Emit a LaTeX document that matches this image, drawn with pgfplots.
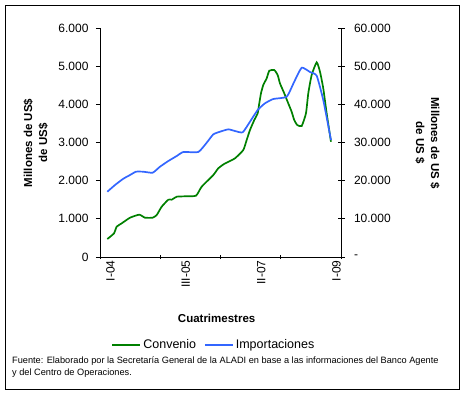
\documentclass[border=0pt]{standalone}
\usepackage{pgfplots}
\pgfplotsset{compat=1.18}
\usepackage{fontspec}
\setmainfont{Liberation Sans}
\definecolor{conv}{RGB}{0,128,0}
\definecolor{impo}{RGB}{51,102,255}
\begin{document}
\begin{tikzpicture}[x=1pt,y=1pt]
\path[use as bounding box] (0,0) rectangle (465,394);
\draw[line width=0.8pt] (5,5) rectangle (459,389);
\begin{axis}[
  at={(100pt,137pt)}, anchor=south west,
  scale only axis, width=241pt, height=229pt,
  xmin=0, xmax=64, ymin=0, ymax=6000,
  scaled y ticks=false,
  axis x line*=bottom, axis y line*=left,
  axis line style={-, line width=0.8pt},
  every tick/.style={black, line width=0.8pt},
  xtick={0,16,32,48,64}, xticklabels={},
  xtick align=center, 
  extra x ticks={2,22,42,62},
  extra x tick labels={I-04,III-05,II-07,I-09},
  extra x tick style={major tick length=0pt, xticklabel style={rotate=90, anchor=east, font=\fontsize{12}{14}\selectfont, yshift=-3pt}},
  ytick={0,1000,...,6000},
  yticklabels={0,1.000,2.000,3.000,4.000,5.000,6.000},
  ytick align=outside, major tick length=4pt,
  yticklabel style={font=\fontsize{12}{14}\selectfont, xshift=-4pt},
  xlabel={Cuatrimestres},
  xlabel style={at={(axis description cs:0.484,-0.268)}, anchor=center, font=\bfseries\fontsize{11.5}{13}\selectfont},
  ylabel={Millones de US\$\\de US\$},
  ylabel style={align=center, at={(axis description cs:-0.266,0.498)}, anchor=center, font=\bfseries\fontsize{11.5}{15}\selectfont},
  clip=false,
]
\addplot[conv, line width=1.7pt, smooth, tension=0.3] coordinates {
(1.94,471)(3.72,620)(4.43,795)(5.76,882)(7.97,1030)(10.44,1109)(11.95,1030)(13.99,1030)(15.06,1100)(16.38,1318)(18.14,1502)(19.04,1502)(20.37,1580)(22.57,1590)(25.49,1606)(27.0,1842)(30.09,2148)(31.41,2324)(32.93,2436)(33.64,2471)(35.85,2586)(38.05,2803)(38.95,3065)(39.83,3327)(40.97,3589)(41.87,3765)(42.30,4027)(42.75,4289)(43.36,4506)(44.26,4681)(44.96,4881)(46.29,4899)(47.18,4768)(47.79,4550)(48.93,4289)(49.99,4027)(50.89,3807)(51.58,3589)(52.38,3458)(53.56,3432)(54.70,3765)(55.31,4289)(56.21,4768)(57.54,5100)(58.42,4855)(59.29,4420)(60.19,3765)(61.34,3021)
};
\end{axis}
\begin{axis}[
  at={(100pt,137pt)}, anchor=south west,
  scale only axis, width=241pt, height=229pt,
  xmin=0, xmax=64, ymin=0, ymax=60000,
  scaled y ticks=false,
  axis x line=none, axis y line*=right,
  axis line style={-, line width=0.8pt},
  every tick/.style={black, line width=0.8pt},
  ytick={0,10000,...,60000},
  yticklabels={-,10.000,20.000,30.000,40.000,50.000,60.000},
  ytick align=center, major tick length=7pt,
  yticklabel style={font=\fontsize{12}{14}\selectfont, xshift=6pt},
  ylabel={Millones de US \$\\de US \$},
  ylabel style={align=center, at={(axis description cs:1.359,0.498)}, anchor=center, rotate=180, font=\bfseries\fontsize{11.5}{15}\selectfont},
  legend columns=2,
  legend style={draw=none, fill=none, at={(0.473,-0.384)}, anchor=center, font=\fontsize{12.5}{14}\selectfont, /tikz/every even column/.append style={column sep=6pt}},
  legend image code/.code={\draw[#1] (0pt,0pt) -- (28pt,0pt);},
  clip=false,
]
\addlegendimage{conv, line width=1.7pt}
\addlegendentry{Convenio}
\addplot[impo, line width=1.7pt, smooth, tension=0.3] coordinates {
(1.94,17100)(3.98,18860)(6.19,20510)(7.97,21480)(9.56,22350)(11.50,22350)(13.99,22090)(15.93,23660)(18.14,25150)(20.37,26460)(22.12,27510)(26.10,27510)(28.33,29950)(30.09,32140)(31.86,32830)(34.07,33450)(35.85,33010)(37.89,32670)(39.83,35450)(41.87,38510)(43.81,40270)(46.02,41400)(49.57,42000)(51.58,45930)(53.56,49600)(55.76,48470)(57.54,47500)(59.29,41130)(61.34,30650)
};
\addlegendentry{Importaciones}
\end{axis}
\node[anchor=base west, inner sep=0pt, font=\fontsize{9.2}{11}\selectfont] at (12,30.7) {Fuente: Elaborado por la Secretaría General de la ALADI en base a las informaciones del Banco Agente};
\node[anchor=base west, inner sep=0pt, font=\fontsize{9.2}{11}\selectfont] at (12,18.3) {y del Centro de Operaciones.};
\end{tikzpicture}
\end{document}
